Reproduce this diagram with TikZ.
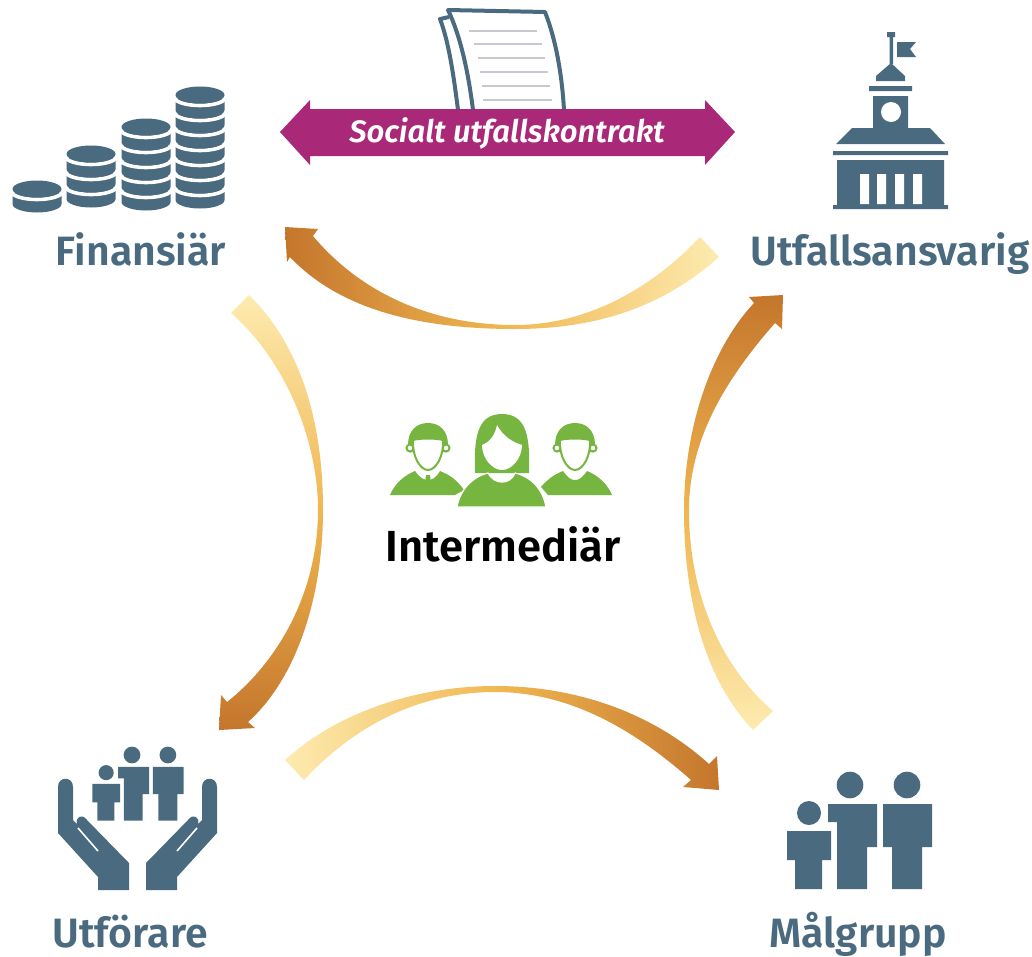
\documentclass[tikz,border=0pt]{standalone}
\usepackage{fontspec}
\setmainfont{Fira Sans}[BoldFont={Fira Sans SemiBold},BoldItalicFont={Fira Sans SemiBold Italic}]
\usetikzlibrary{calc}
\definecolor{slate}{HTML}{4A6B7F}
\definecolor{plum}{HTML}{A92877}
\definecolor{leaf}{HTML}{76B53F}
\definecolor{flowhead}{HTML}{C4762C}
\definecolor{flowmid}{HTML}{F0B650}
\definecolor{flowtail}{HTML}{FDEBB0}
\definecolor{sheetline}{HTML}{C6C9D0}
\tikzset{
  icon/.style={fill=slate},
  gap/.style={fill=white},
  role/.style={anchor=base,text=slate,font=\fontsize{41}{41}\selectfont\bfseries},
  person/.style={fill=leaf,draw=white,line width=1.2pt},
  face/.style={fill=white,draw=leaf,line width=2pt}
}
\newcommand\coinstack[3]{% x, y of top coin, number of bands
  \foreach \i in {#3,...,1}{
    \pgfmathsetmacro\yc{#2+15*\i}
    \fill[icon] (#1-24.5,\yc) arc[start angle=180,end angle=0,x radius=24.5,y radius=8.5] -- (#1+24.5,\yc-11) -- (#1-24.5,\yc-11) -- cycle;
    \draw[white,line width=3.6pt] (#1-26,\yc-13) arc[start angle=180,end angle=0,x radius=26,y radius=8.5];
  }
  \fill[icon] (#1,#2) ellipse (24.5 and 8.5);
}
\newcommand\familyicon{
  \fill[icon] (0,0) circle (13.3) (57,0) circle (13.3) (-41,28) circle (12);
  \fill[icon] (-22,19) -- (27,19) -- (27,62) -- (17,62) -- (17,104) -- (-13,104) -- (-13,37) -- (-22,37) -- cycle;
  \fill[icon] (33,19) -- (82,19) -- (82,62) -- (72,62) -- (72,104) -- (42,104) -- (42,62) -- (33,62) -- cycle;
  \fill[icon] (-63,46) -- (-19,46) -- (-19,75) -- (-28,75) -- (-28,104) -- (-55,104) -- (-55,75) -- (-63,75) -- cycle;
}
\newcommand\manhead[1]{
  \fill[leaf] (#1-20,452) -- (#1-20,445) .. controls (#1-20,431) and (#1-12,423) .. (#1,423) .. controls (#1+12,423) and (#1+20,431) .. (#1+20,445) -- (#1+20,452) -- cycle;
  \filldraw[face] (#1-18,448) circle (3.5) (#1+18,448) circle (3.5);
  \filldraw[face] (#1-15,440) .. controls (#1-8,438) and (#1+8,438) .. (#1+15,440) .. controls (#1+16,456) and (#1+8,470) .. (#1,470) .. controls (#1-8,470) and (#1-16,456) .. (#1-15,440) -- cycle;
}
\begin{document}
\begin{tikzpicture}[x=1pt,y=-1pt]
\useasboundingbox (0,0) rectangle (1032,956);
% coins
\coinstack{37}{189}{1}
\coinstack{91}{154}{3}
\coinstack{146}{127}{5}
\coinstack{200}{95}{7}
\node[role] (fin) at (141,265) {Finansiär};
% town hall
\fill[icon] (833,205) rectangle (948,209) (837,160) rectangle (944,205) (833,151) rectangle (948,155);
\fill[gap] (860,174) rectangle (869,204) (877,174) rectangle (886,204) (895,174) rectangle (904,204) (913,174) rectangle (922,204);
\fill[icon] (836,144) -- (945,144) -- (930,128) -- (852,128) -- cycle;
\fill[icon] (873,96) rectangle (908,128) (869,86) rectangle (912,91);
\fill[gap] (891,112) circle (10);
\fill[icon] (876,81) -- (905,81) -- (905,76) -- (891,63) -- (876,76) -- cycle;
\fill[icon] (889.5,33) rectangle (893,64) (887,32) rectangle (895,37);
\fill[icon] (897,42) -- (916,42) -- (910,49) -- (916,57) -- (897,57) -- cycle;
\node[role] (utf) at (890,265) {Utfallsansvarig};
% contract
\draw[slate,line width=4pt,line join=round] (458,110) .. controls (453,70) and (448,40) .. (440,19) -- (449,17);
\draw[slate,line width=4pt,line join=round,fill=white] (473,110) .. controls (468,70) and (460,35) .. (448,10) -- (545,12) .. controls (556,40) and (562,75) .. (564,110);
\foreach \y/\xa/\xb in {31/469/537,44/474/542,58/478/545,72/480/548,86/482/550,100/483/552}
  \draw[sheetline,line width=1.6pt] (\xa,\y) -- (\xb,\y);
\fill[plum] (280,132) -- (310,100) -- (310,109) -- (705,109) -- (705,100) -- (735,132) -- (705,165) -- (705,156) -- (310,156) -- (310,165) -- cycle;
\node[text=white,font=\fontsize{31}{31}\selectfont\bfseries\itshape] (avtal) at (507,133) {Socialt utfallskontrakt};
% flows
\path[left color=flowhead,right color=flowtail,middle color=flowmid] (700,237) .. controls (655,285) and (590,325) .. (515,325) .. controls (430,325) and (360,292) .. (313,236) -- (318,229) -- (285,227) -- (287,262) -- (290,257) .. controls (340,310) and (420,329) .. (515,329) .. controls (600,329) and (665,305) .. (719,257) -- cycle;
\path[top color=flowtail,bottom color=flowhead,middle color=flowmid] (231,313) .. controls (285,360) and (318,440) .. (318,510) .. controls (318,590) and (280,660) .. (227,702) -- (221,695) -- (219,730) -- (255,728) -- (248,722) .. controls (295,680) and (323,600) .. (323,510) .. controls (323,420) and (300,345) .. (249,295) -- cycle;
\path[bottom color=flowtail,top color=flowhead,middle color=flowmid] (753,730) .. controls (705,680) and (684,600) .. (684,510) .. controls (684,430) and (710,350) .. (754,303) -- (749,297) -- (783,295) -- (782,329) -- (775,323) .. controls (725,380) and (689,440) .. (689,510) .. controls (689,600) and (725,670) .. (773,711) -- cycle;
\path[left color=flowtail,right color=flowhead,middle color=flowmid] (285,760) .. controls (340,710) and (420,686) .. (495,686) .. controls (580,686) and (655,715) .. (709,764) -- (717,756) -- (719,790) -- (683,787) -- (691,780) .. controls (640,735) and (575,692) .. (495,692) .. controls (420,692) and (355,725) .. (304,780) -- cycle;
% intermediary
\fill[leaf] (390,495) .. controls (395,483) and (405,475) .. (415,471) .. controls (420,478) and (424,480) .. (428,480) .. controls (432,480) and (436,478) .. (440,471) .. controls (450,475) and (457,480) .. (464,490) -- (455,495) -- cycle;
\fill[leaf] (426,475) -- (430,475) -- (431,483) -- (425,483) -- cycle;
\manhead{428}
\fill[leaf] (612,495) .. controls (607,483) and (597,475) .. (587,471) .. controls (582,478) and (579,480) .. (575,480) .. controls (571,480) and (568,478) .. (563,471) .. controls (553,475) and (547,480) .. (541,487) -- (548,495) -- cycle;
\manhead{575}
\fill[leaf] (475,473) .. controls (474,440) and (476,414) .. (502,414) .. controls (528,414) and (530,440) .. (529,473) -- cycle;
\fill[gap] (482,445) .. controls (490,442) and (495,435) .. (497,425) .. controls (503,436) and (512,442) .. (522,445) .. controls (522,458) and (512,470) .. (502,470) .. controls (492,470) and (482,458) .. (482,445) -- cycle;
\filldraw[person] (457,507) .. controls (460,490) and (472,477) .. (488,473) .. controls (492,480) and (497,482) .. (502,482) .. controls (507,482) and (512,480) .. (515,473) .. controls (532,477) and (543,490) .. (546,507) -- cycle;
\node[anchor=base,text=black,font=\fontsize{43.5}{43.5}\selectfont\bfseries] (mid) at (503,561) {Intermediär};
% provider
\begin{scope}[shift={(132,755)},scale=0.63]
\familyicon
\end{scope}
\foreach \s/\o in {1/0,-1/275}{
\begin{scope}[shift={(\o,0)},xscale=\s]
\fill[icon] (58,787) .. controls (58,776) and (73,776) .. (73,787) -- (73,820) -- (77,824) .. controls (75,817) and (82,813) .. (87,820) -- (129,863) -- (129,890) -- (98,890) -- (98,877) -- (58,833) -- cycle;
\draw[white,line width=1.6pt] (78,828) -- (98,851);
\end{scope}
}
\node[role] (prov) at (130,947) {Utförare};
% target group
\begin{scope}[shift={(850,785)}]
\familyicon
\end{scope}
\node[role] (grp) at (858,947) {Målgrupp};
\end{tikzpicture}
\end{document}
